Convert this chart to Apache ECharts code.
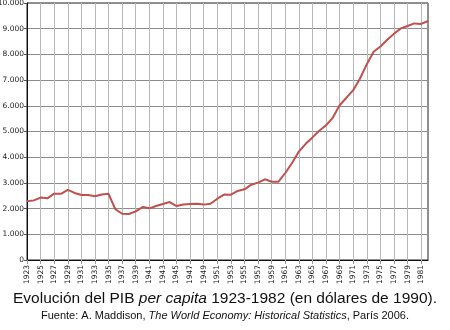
<!DOCTYPE html>
<html>
<head>
<meta charset="utf-8">
<script src="https://cdn.jsdelivr.net/npm/echarts@6/dist/echarts.min.js"></script>
<style>
html,body{margin:0;padding:0;background:#fff;}
#chart{width:450px;height:330px;}
</style>
</head>
<body>
<div id="chart"></div>
<script>
const years = ['1923','1924','1925','1926','1927','1928','1929','1930','1931','1932','1933','1934','1935','1936','1937','1938','1939','1940','1941','1942','1943','1944','1945','1946','1947','1948','1949','1950','1951','1952','1953','1954','1955','1956','1957','1958','1959','1960','1961','1962','1963','1964','1965','1966','1967','1968','1969','1970','1971','1972','1973','1974','1975','1976','1977','1978','1979','1980','1981','1982'];
const gdpPerCapita = [2290,2320,2430,2400,2580,2575,2730,2610,2530,2530,2480,2550,2575,1975,1800,1790,1890,2060,2010,2100,2180,2255,2100,2160,2180,2185,2155,2190,2385,2545,2540,2685,2750,2930,3010,3140,3047,3047,3385,3775,4220,4520,4770,5030,5240,5543,6023,6315,6608,7064,7620,8102,8310,8570,8800,9013,9103,9207,9185,9298];
const yTicks = [0,1000,2000,3000,4000,5000,6000,7000,8000,9000,10000];

const chart = echarts.init(document.getElementById('chart'));
const fmt = v => String(v).replace(/\B(?=(\d{3})+(?!\d))/g, '.');
chart.setOption({
  animation: false,
  backgroundColor: '#ffffff',
  title: [
    {
      text: '{n|Evolución del PIB }{i|per capita}{n| 1923-1982 (en dólares de 1990).}',
      left: 'center', top: 291, padding: 0,
      textStyle: {
        fontWeight: 'normal',
        rich: {
          n: {fontFamily: 'Liberation Sans', fontSize: 15.5, fontWeight: 'normal', color: '#111'},
          i: {fontFamily: 'Liberation Sans', fontSize: 15.5, fontWeight: 'normal', fontStyle: 'italic', color: '#111'}
        }
      }
    },
    {
      text: '{n|Fuente: A. Maddison, }{i|The World Economy: Historical Statistics}{n|, París 2006.}',
      left: 'center', top: 310, padding: 0,
      textStyle: {
        fontWeight: 'normal',
        rich: {
          n: {fontFamily: 'Liberation Sans', fontSize: 11, fontWeight: 'normal', color: '#111'},
          i: {fontFamily: 'Liberation Sans', fontSize: 11, fontWeight: 'normal', fontStyle: 'italic', color: '#111'}
        }
      }
    }
  ],
  grid: {left: 27, right: 22, top: 3, bottom: 70, show: true, borderColor: '#222', borderWidth: 1, containLabel: false, outerBoundsMode: 'none'},
  xAxis: {
    type: 'category',
    data: years,
    boundaryGap: false,
    axisLine: {show: true, lineStyle: {color: '#111', width: 1}},
    axisTick: {show: true, interval: 1, length: 4, lineStyle: {color: '#999'}},
    axisLabel: {interval: 1, rotate: 90, margin: 5, fontFamily: 'DejaVu Sans', fontSize: 7.5, color: '#222', hideOverlap: false},
    splitLine: {show: true, interval: 1, lineStyle: {color: '#b8b8b8', width: 1}}
  },
  yAxis: {
    type: 'value',
    min: yTicks[0], max: yTicks[yTicks.length - 1], interval: 1000,
    axisLine: {show: true, lineStyle: {color: '#111', width: 1}},
    axisTick: {show: true, length: 3, lineStyle: {color: '#555'}},
    axisLabel: {margin: 3, fontFamily: 'DejaVu Sans', fontSize: 7.5, color: '#222', formatter: fmt},
    splitLine: {show: true, lineStyle: {color: '#8c8c8c', width: 1}}
  },
  series: [{
    type: 'line',
    data: gdpPerCapita,
    showSymbol: false,
    lineStyle: {color: '#c0504d', width: 2},
    itemStyle: {color: '#c0504d'}
  }]
});
</script>
</body>
</html>
